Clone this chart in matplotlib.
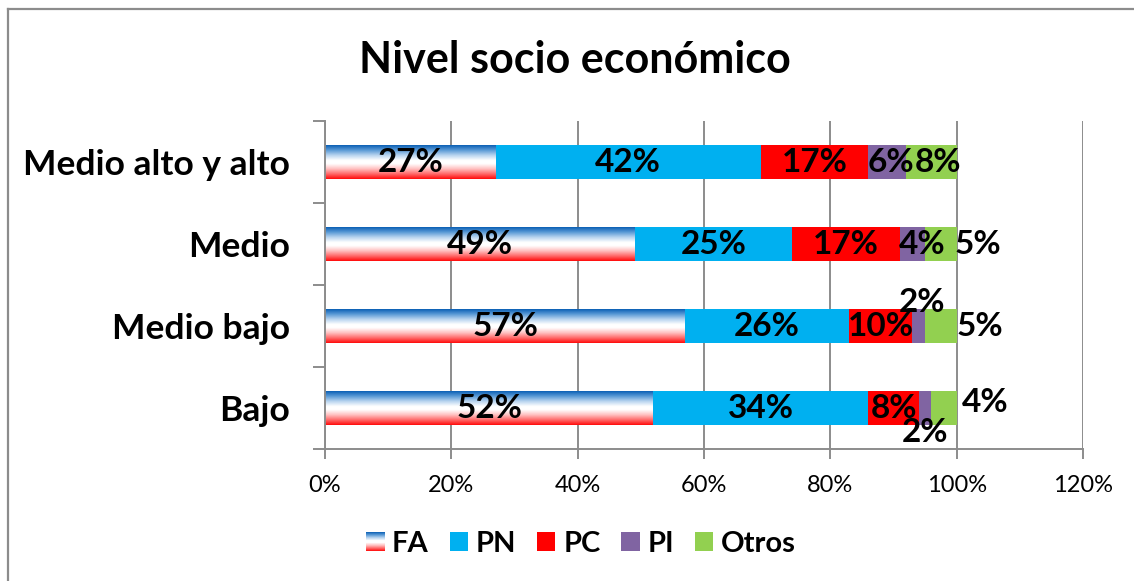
import numpy as np
import matplotlib
matplotlib.use("Agg")
import matplotlib.pyplot as plt
from matplotlib.colors import LinearSegmentedColormap
from matplotlib.patches import Patch
from matplotlib.legend_handler import HandlerBase
from matplotlib.image import BboxImage
from matplotlib.transforms import Bbox, TransformedBbox
from matplotlib.lines import Line2D
from matplotlib.ticker import FixedLocator, PercentFormatter

# ---- data ----
categories = ["Bajo", "Medio bajo", "Medio", "Medio alto y alto"]
series_names = ["FA", "PN", "PC", "PI", "Otros"]
FA = [52, 57, 49, 27]
PN = [34, 26, 25, 42]
PC = [8, 10, 17, 17]
PI = [2, 2, 4, 6]
Otros = [4, 5, 5, 8]
xticks = [0, 20, 40, 60, 80, 100, 120]
title = "Nivel socio económico"

# ---- style ----
FONT = ["Lato", "DejaVu Sans"]
plt.rcParams["font.family"] = FONT
colors = {"PN": "#00B0F0", "PC": "#FF0000", "PI": "#8064A2", "Otros": "#92D050"}
grad_cmap = LinearSegmentedColormap.from_list(
    "fa", [(0, "#0A5FB4"), (0.15, "#5A9AD6"), (0.3, "#B8D4EF"), (0.45, "#FFFFFF"),
           (0.55, "#FFFFFF"), (0.7, "#FFC0C0"), (0.85, "#FF6A6A"), (1, "#FF0A0A")])
grid_col = "#8C8C8C"
# label offsets in pixels (row index, series index) -> (dx, dy)
label_offsets = {
    (3, 3): (4, 0), (3, 4): (7, 0),
    (2, 3): (10, 0), (2, 4): (37, 0),
    (1, 3): (3, 24), (1, 4): (39, 0),
    (0, 3): (0, -24), (0, 4): (41, 6),
}

W, H = 1134, 581
fig = plt.figure(figsize=(W / 100, H / 100), dpi=100)
ax = fig.add_axes([325 / W, 1 - 449 / H, (1083 - 325) / W, (449 - 121) / H])

data = [np.array(FA) / 100, np.array(PN) / 100, np.array(PC) / 100,
        np.array(PI) / 100, np.array(Otros) / 100]
y = np.arange(len(categories))
bar_h = 0.41
left = np.zeros(len(categories))
grad = np.linspace(0, 1, 256)[:, None]
px2pt = 72 / 100
for si, (name, vals) in enumerate(zip(series_names, data)):
    if name == "FA":
        bars = ax.barh(y, vals, left=left, height=bar_h, color="none",
                       edgecolor="none", zorder=2)
        for p in bars:
            x0, y0 = p.get_x(), p.get_y()
            ax.imshow(grad, extent=(x0, x0 + p.get_width(), y0, y0 + p.get_height()),
                      aspect="auto", cmap=grad_cmap, origin="upper", zorder=2,
                      interpolation="bilinear")
    else:
        bars = ax.barh(y, vals, left=left, height=bar_h, color=colors[name],
                       edgecolor="none", zorder=2)
    for ri, p in enumerate(bars):
        cx = p.get_x() + p.get_width() / 2
        dx, dy = label_offsets.get((ri, si), (0, 0))
        ax.annotate(f"{int(round(vals[ri] * 100))}%", (cx, y[ri]),
                    xytext=(dx * px2pt, dy * px2pt), textcoords="offset points",
                    ha="center", va="center", fontsize=24, fontweight="bold",
                    color="black", zorder=5, annotation_clip=False)
    left = left + vals

ax.set_xlim(0, 1.2)
ax.set_ylim(-0.5, len(categories) - 0.5)
ax.set_xticks(np.array(xticks) / 100)
ax.xaxis.set_major_formatter(PercentFormatter(1.0, decimals=0))
ax.grid(axis="x", color=grid_col, linewidth=1.4)
ax.set_axisbelow(True)
ax.tick_params(axis="x", length=7, width=1.4, color=grid_col, labelsize=17, pad=12)
# y ticks at boundaries, labels at centers
ax.yaxis.set_major_locator(FixedLocator(np.arange(-0.5, len(categories), 1.0)))
ax.yaxis.set_major_formatter(plt.NullFormatter())
ax.yaxis.set_minor_locator(FixedLocator(y))
ax.set_yticklabels(categories, minor=True)
ax.tick_params(axis="y", which="major", length=9, width=1.4, color=grid_col)
ax.tick_params(axis="y", which="minor", length=0, pad=25, labelsize=25.5)
for lab in ax.get_yticklabels(minor=True):
    lab.set_fontweight("bold")
for s in ["top", "right"]:
    ax.spines[s].set_visible(False)
for s in ["left", "bottom"]:
    ax.spines[s].set_color(grid_col)
    ax.spines[s].set_linewidth(1.4)

fig.text(575 / W, 1 - 73 / H, title, ha="center", va="baseline",
         fontsize=31, fontweight="bold")

# legend with gradient handle for FA
class GradientHandler(HandlerBase):
    def create_artists(self, legend, orig_handle, xdescent, ydescent, width,
                       height, fontsize, trans):
        bb = Bbox.from_bounds(-xdescent, -ydescent, width, height)
        tbb = TransformedBbox(bb, trans)
        img = BboxImage(tbb, cmap=grad_cmap, interpolation="bilinear", origin="upper")
        img.set_data(grad)
        return [img]

handles = [Patch(facecolor="white", label="FA")] + [
    Patch(facecolor=colors[n], edgecolor="none", label=n) for n in series_names[1:]]
leg = fig.legend(handles=handles, labels=series_names, loc="center",
                 bbox_to_anchor=(581 / W, 1 - 544 / H), ncol=5, frameon=False,
                 prop={"family": FONT, "weight": "bold", "size": 21},
                 handlelength=0.62, handleheight=0.62, handletextpad=0.27,
                 columnspacing=0.72, handler_map={handles[0]: GradientHandler()})

# outer frame (left and top edges visible)
fig.add_artist(Line2D([8 / W, 8 / W], [0, 1 - 9 / H], color="#8C8C8C", linewidth=1.6,
                      transform=fig.transFigure))
fig.add_artist(Line2D([8 / W, 1], [1 - 9 / H, 1 - 9 / H], color="#8C8C8C",
                      linewidth=1.6, transform=fig.transFigure))

fig.savefig("out.png", dpi=100)
